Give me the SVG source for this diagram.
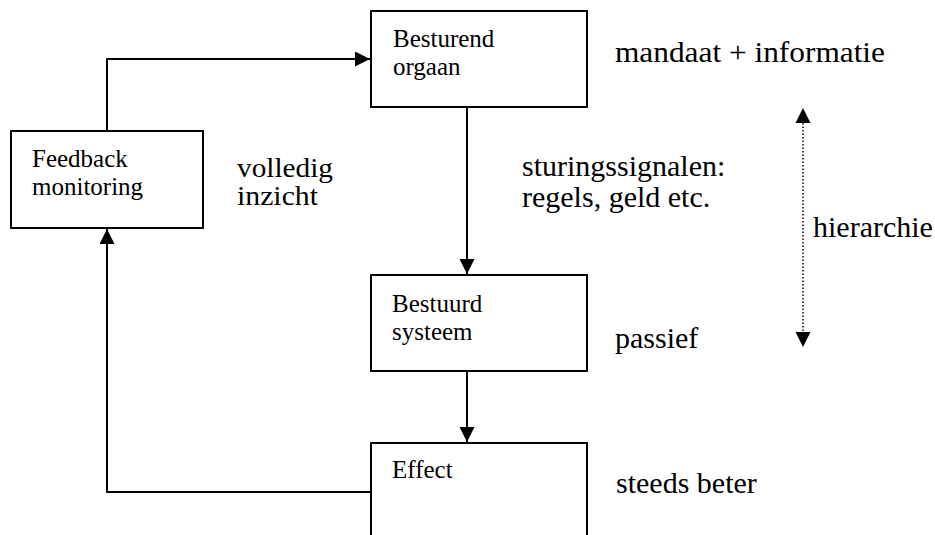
<svg xmlns="http://www.w3.org/2000/svg" width="935" height="535" viewBox="0 0 935 535">
<style>
.box{fill:#fff;stroke:#000;stroke-width:2}
.bt{font-family:"Liberation Serif","Times New Roman",serif;font-size:25px;fill:#000}
.lb{font-family:"Liberation Serif","Times New Roman",serif;font-size:30px;fill:#000}
.con{fill:none;stroke:#000;stroke-width:2}
.dot{fill:none;stroke:#000;stroke-width:1.5;stroke-dasharray:1.5 2}
</style>
<defs>
<marker id="ah" markerUnits="userSpaceOnUse" markerWidth="16" markerHeight="16" refX="15" refY="7.5" orient="auto">
<path d="M0,0 L15,7.5 L0,15 z" fill="#000"/>
</marker>
</defs>
<rect width="935" height="535" fill="#fff"/>
<g id="connectors">
<path class="con" d="M107,131 V59 H370" marker-end="url(#ah)"/>
<path class="con" d="M467,107 V274" marker-end="url(#ah)"/>
<path class="con" d="M467,371 V442" marker-end="url(#ah)"/>
<path class="con" d="M371,492 H107 V229" marker-end="url(#ah)"/>
<path class="dot" d="M803,123 V332"/>
<path d="M795.5,123 L803,108 L810.5,123 z" fill="#000"/>
<path d="M795.5,332 L803,347 L810.5,332 z" fill="#000"/>
</g>
<g id="besturend-orgaan">
<rect class="box" x="371" y="11" width="216" height="96"/>
<text class="bt" x="393" y="47">Besturend<tspan x="393" dy="28">orgaan</tspan></text>
</g>
<g id="feedback-monitoring">
<rect class="box" x="11" y="131" width="192" height="97"/>
<text class="bt" x="32" y="167">Feedback<tspan x="32" dy="28">monitoring</tspan></text>
</g>
<g id="bestuurd-systeem">
<rect class="box" x="371" y="275" width="216" height="96"/>
<text class="bt" x="392" y="312">Bestuurd<tspan x="392" dy="28">systeem</tspan></text>
</g>
<g id="effect">
<rect class="box" x="371" y="443" width="216" height="110"/>
<text class="bt" x="392" y="478">Effect</text>
</g>
<g id="labels">
<text class="lb" x="615" y="62" textLength="270" lengthAdjust="spacingAndGlyphs">mandaat + informatie</text>
<text class="lb" x="237" y="177" style="font-size:28px"><tspan textLength="96" lengthAdjust="spacingAndGlyphs">volledig</tspan><tspan x="237" dy="28" textLength="81" lengthAdjust="spacingAndGlyphs">inzicht</tspan></text>
<text class="lb" x="522" y="176">sturingssignalen:<tspan x="522" dy="31">regels, geld etc.</tspan></text>
<text class="lb" x="813" y="237">hierarchie</text>
<text class="lb" x="615" y="348">passief</text>
<text class="lb" x="616" y="493">steeds beter</text>
</g>
</svg>
